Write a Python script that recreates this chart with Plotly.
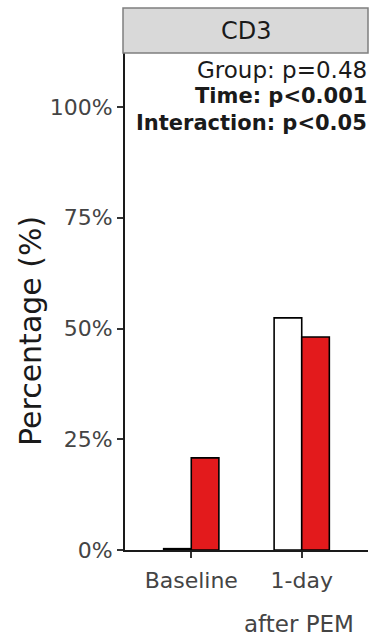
import plotly.graph_objects as go

# Data
timepoints = ["Baseline", "1-day"]
group_white = [0.3, 52.4]   # % (open bars)
group_red = [20.8, 48.1]    # % (red bars)
y_ticks = [0, 25, 50, 75, 100]
y_ticktext = ["0%", "25%", "50%", "75%", "100%"]
stats_lines = ["Group: p=0.48", "<b>Time: p<0.001</b>", "<b>Interaction: p<0.05</b>"]
panel_title = "CD3"

FONT = "DejaVu Sans"
W, H = 380, 640
L, R, T, B = 125, 12, 53, 90
plot_h = H - T - B

def py(pix):
    """pixel row -> paper y"""
    return (H - B - pix) / plot_h

def px(pix):
    plot_w = W - L - R
    return (pix - L) / plot_w

fig = go.Figure()
fig.add_trace(go.Bar(
    x=timepoints, y=group_white, width=0.25, offset=-0.25,
    marker=dict(color="white", line=dict(color="black", width=1.6)),
    showlegend=False,
))
fig.add_trace(go.Bar(
    x=timepoints, y=group_red, width=0.25, offset=0,
    marker=dict(color="#e31a1c", line=dict(color="black", width=1.6)),
    showlegend=False,
))

fig.update_layout(
    width=W, height=H,
    margin=dict(l=L, r=R, t=T, b=B),
    paper_bgcolor="white", plot_bgcolor="white",
    font=dict(family=FONT, color="#444444"),
    barmode="overlay",
    xaxis=dict(
        type="category", range=[-0.6, 1.6],
        showline=True, linecolor="#1a1a1a", linewidth=2,
        ticks="outside", ticklen=6, tickwidth=1.5, tickcolor="#333333",
        tickfont=dict(size=22, color="#444444"),
        ticklabelstandoff=4,
        showgrid=False, zeroline=False,
    ),
    yaxis=dict(
        range=[0, 112.2],
        tickvals=y_ticks, ticktext=y_ticktext,
        showline=True, linecolor="#1a1a1a", linewidth=2,
        ticks="outside", ticklen=6, tickwidth=1.5, tickcolor="#333333",
        tickfont=dict(size=22, color="#444444"),
        showgrid=False, zeroline=False,
    ),
)

# facet strip
fig.add_shape(type="rect", xref="paper", yref="paper",
              x0=px(123), x1=px(368), y0=py(53), y1=py(8),
              fillcolor="#d9d9d9", line=dict(color="#7f7f7f", width=1.5),
              layer="above")
fig.add_annotation(xref="paper", yref="paper", x=px(246), y=py(31),
                   text=panel_title, showarrow=False,
                   font=dict(family=FONT, size=24, color="#1a1a1a"),
                   xanchor="center", yanchor="middle")

# statistics text
stat_rows = [70, 96.5, 123.5]
stat_sizes = [23, 21, 21]
for txt, row, sz in zip(stats_lines, stat_rows, stat_sizes):
    fig.add_annotation(xref="paper", yref="paper", x=px(369), y=py(row),
                       text=txt, showarrow=False,
                       font=dict(family=FONT, size=sz, color="#1a1a1a"),
                       xanchor="right", yanchor="middle")

# axis titles
fig.add_annotation(xref="paper", yref="paper", x=px(30), y=py(331),
                   text="Percentage (%)", textangle=-90, showarrow=False,
                   font=dict(family=FONT, size=30, color="#1a1a1a"),
                   xanchor="center", yanchor="middle")
fig.add_annotation(xref="paper", yref="paper", x=px(299), y=py(624),
                   text="after PEM", showarrow=False,
                   font=dict(family=FONT, size=23, color="#444444"),
                   xanchor="center", yanchor="middle")

fig.write_html("out.html")
